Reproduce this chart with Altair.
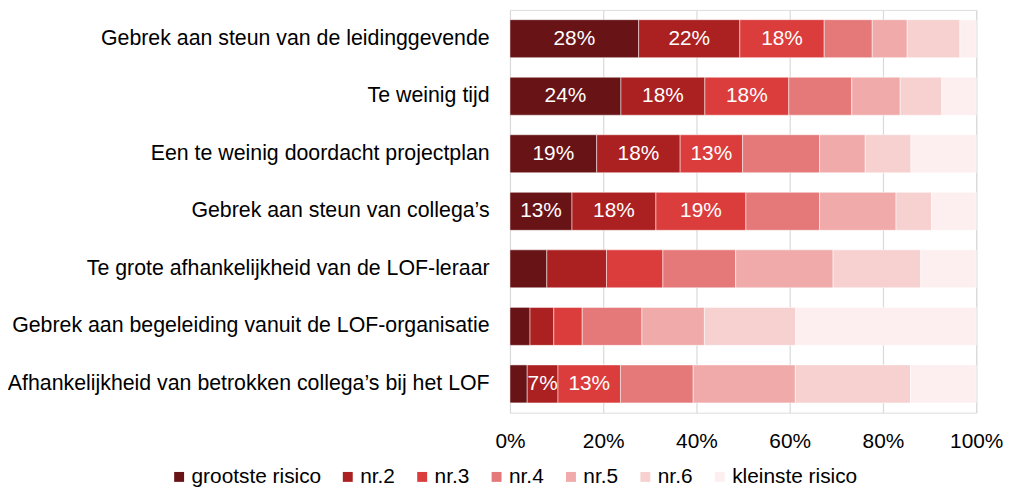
import altair as alt
import pandas as pd

categories = [
    "Gebrek aan steun van de leidinggevende",
    "Te weinig tijd",
    "Een te weinig doordacht projectplan",
    "Gebrek aan steun van collega’s",
    "Te grote afhankelijkheid van de LOF-leraar",
    "Gebrek aan begeleiding vanuit de LOF-organisatie",
    "Afhankelijkheid van betrokken collega’s bij het LOF",
]
series = ["grootste risico", "nr.2", "nr.3", "nr.4", "nr.5", "nr.6", "kleinste risico"]
colors = ["#681316", "#AB2020", "#DB3C3C", "#E57878", "#F0AAAA", "#F7D0D0", "#FDEFEF"]

v_grootste = [27.6, 23.8, 18.6, 13.3, 7.9, 4.3, 3.7]
v_nr2 = [21.7, 18.0, 17.9, 18.0, 12.8, 5.1, 6.6]
v_nr3 = [18.1, 18.0, 13.4, 19.3, 12.1, 6.1, 13.4]
v_nr4 = [10.3, 13.5, 16.5, 15.8, 15.6, 12.8, 15.6]
v_nr5 = [7.5, 10.4, 9.8, 16.4, 20.9, 13.4, 21.9]
v_nr6 = [11.3, 8.9, 9.8, 7.6, 18.8, 19.6, 24.7]
v_kleinste = [3.5, 7.4, 14.0, 9.6, 11.9, 38.7, 14.1]

# which series carry a data label, per category
labelled = [[0, 1, 2], [0, 1, 2], [0, 1, 2], [0, 1, 2], [], [], [1, 2]]

all_values = [v_grootste, v_nr2, v_nr3, v_nr4, v_nr5, v_nr6, v_kleinste]
rows = []
for ci, cat in enumerate(categories):
    for si, s in enumerate(series):
        v = all_values[si][ci]
        lab = f"{int(v + 0.5)}%" if si in labelled[ci] else ""
        rows.append({"category": cat, "series": s, "rank": si, "value": v, "label": lab})
df = pd.DataFrame(rows)

FONT = "Liberation Sans"

y_enc = alt.Y(
    "category:N",
    sort=categories,
    title=None,
    scale=alt.Scale(paddingInner=0.34, paddingOuter=0.17),
    axis=alt.Axis(
        labelFontSize=21.5, labelColor="black", ticks=False, domain=False,
        labelPadding=21, labelLimit=700, labelFont=FONT,
    ),
)

bars = alt.Chart(df).mark_bar(stroke="white", strokeWidth=0.5).encode(
    y=y_enc,
    x=alt.X(
        "value:Q",
        stack="zero",
        title=None,
        scale=alt.Scale(domain=[0, 100], nice=False),
        axis=alt.Axis(
            values=[0, 20, 40, 60, 80, 100],
            labelExpr="datum.value + '%'",
            grid=True, gridColor="#d9d9d9", gridWidth=1.2,
            domain=False, ticks=False, labelFlush=False,
            labelFontSize=21, labelColor="black", labelFont=FONT,
            labelPadding=18,
        ),
    ),
    color=alt.Color(
        "series:N",
        scale=alt.Scale(domain=series, range=colors),
        legend=alt.Legend(
            title=None, orient="none", direction="horizontal",
            legendX=-344, legendY=460,
            symbolType="square", symbolSize=100, symbolStrokeWidth=0,
            labelFontSize=21, labelFont=FONT, labelColor="black",
            labelOffset=2, columnPadding=16,
        ),
    ),
    order=alt.Order("rank:Q"),
)

texts = alt.Chart(df).transform_window(
    cum="sum(value)", groupby=["category"], sort=[{"field": "rank"}], frame=[None, 0]
).transform_calculate(
    mid="datum.cum - datum.value / 2"
).transform_filter(
    "datum.label != ''"
).mark_text(color="white", fontSize=21, font=FONT).encode(
    y=alt.Y("category:N", sort=categories, title=None),
    x=alt.X("mid:Q", title=None),
    text="label:N",
)

chart = alt.layer(bars, texts).properties(
    width=470,
    height=406,
    padding={"left": 506, "top": 0, "right": 27, "bottom": 74},
    autosize=alt.AutoSizeParams(type="none"),
).configure_view(stroke=None).configure(font=FONT)

chart.save("out.html", embed_options={"renderer": "svg", "actions": False})
